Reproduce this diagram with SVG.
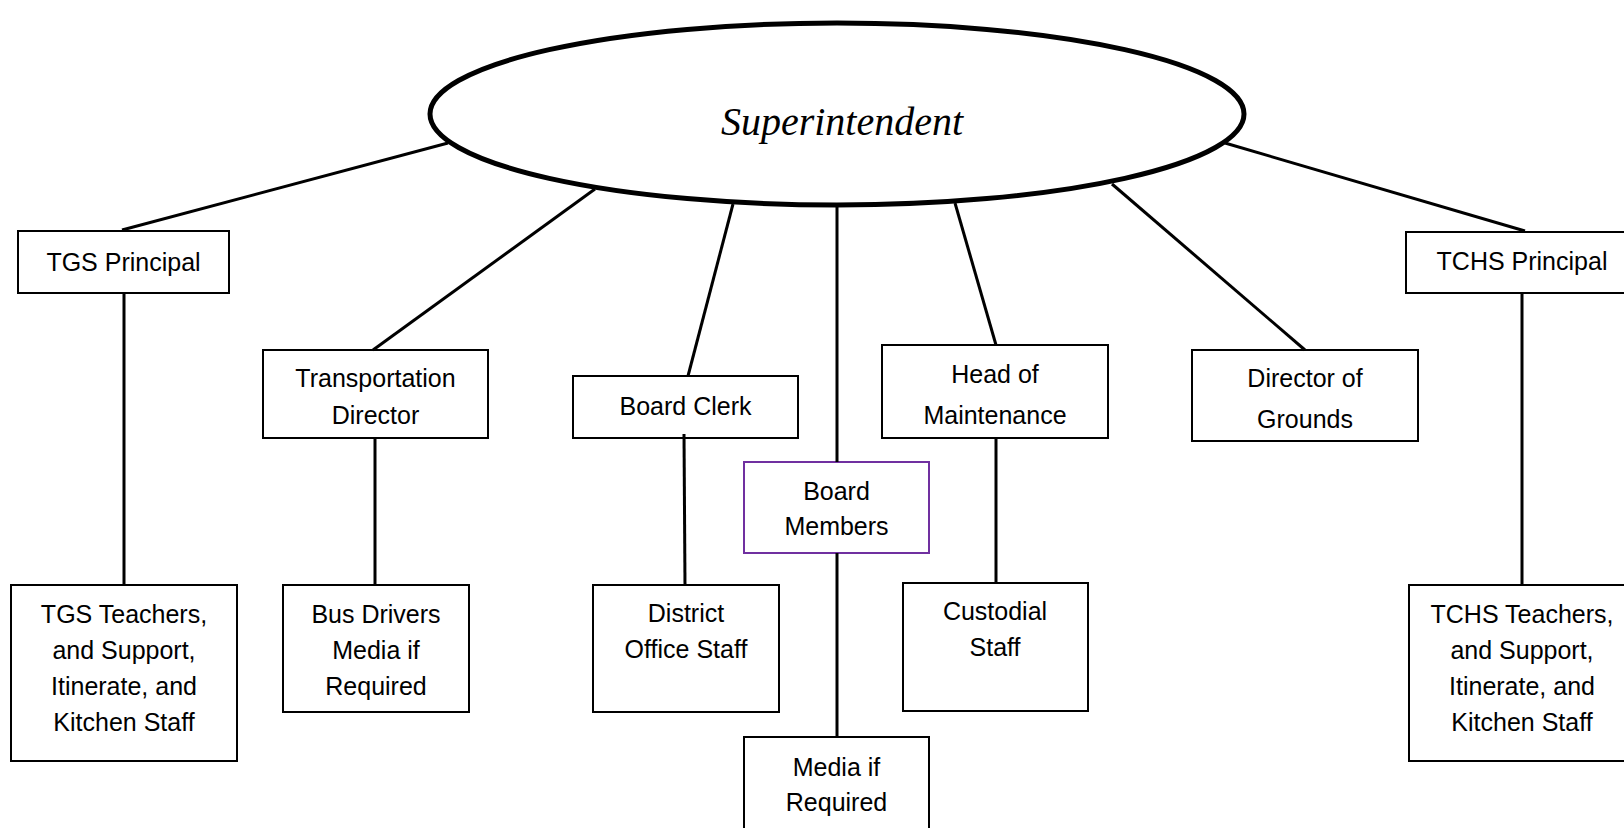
<svg xmlns="http://www.w3.org/2000/svg" width="1624" height="828" viewBox="0 0 1624 828">
<style>
.box{fill:#fff;stroke:#000;stroke-width:2}
.bm{fill:#fff;stroke:#7030A0;stroke-width:2}
.t{font-family:"Liberation Sans",Arial,sans-serif;font-size:25px;fill:#000;text-anchor:middle}
.sup{font-family:"Liberation Serif","Times New Roman",serif;font-style:italic;font-size:40px;fill:#000;text-anchor:middle}
.c{stroke:#000;stroke-width:3;fill:none}
</style>
<rect width="1624" height="828" fill="#fff"/>
<g id="superintendent">
<ellipse cx="837" cy="114" rx="407" ry="91" fill="#fff" stroke="#000" stroke-width="5"/>
<text class="sup" x="842" y="135">Superintendent</text>
</g>
<g id="tgs-principal">
<rect class="box" x="18" y="231" width="211" height="62"/>
<text class="t" x="123.5" y="271">TGS Principal</text>
</g>
<g id="transportation-director">
<rect class="box" x="263" y="350" width="225" height="88"/>
<text class="t" x="375.5" y="387">Transportation</text>
<text class="t" x="375.5" y="424">Director</text>
</g>
<g id="board-clerk">
<rect class="box" x="573" y="376" width="225" height="62"/>
<text class="t" x="685.5" y="415">Board Clerk</text>
</g>
<g id="board-members">
<rect class="bm" x="744" y="462" width="185" height="91"/>
<text class="t" x="836.5" y="500">Board</text>
<text class="t" x="836.5" y="535">Members</text>
</g>
<g id="head-of-maintenance">
<rect class="box" x="882" y="345" width="226" height="93"/>
<text class="t" x="995" y="383">Head of</text>
<text class="t" x="995" y="424">Maintenance</text>
</g>
<g id="director-of-grounds">
<rect class="box" x="1192" y="350" width="226" height="91"/>
<text class="t" x="1305" y="387">Director of</text>
<text class="t" x="1305" y="428">Grounds</text>
</g>
<g id="tchs-principal">
<rect class="box" x="1406" y="232" width="230" height="61"/>
<text class="t" x="1522" y="270">TCHS Principal</text>
</g>
<g id="tgs-teachers">
<rect class="box" x="11" y="585" width="226" height="176"/>
<text class="t" x="124" y="623">TGS Teachers,</text>
<text class="t" x="124" y="659">and Support,</text>
<text class="t" x="124" y="695">Itinerate, and</text>
<text class="t" x="124" y="731">Kitchen Staff</text>
</g>
<g id="bus-drivers">
<rect class="box" x="283" y="585" width="186" height="127"/>
<text class="t" x="376" y="623">Bus Drivers</text>
<text class="t" x="376" y="659">Media if</text>
<text class="t" x="376" y="695">Required</text>
</g>
<g id="district-office-staff">
<rect class="box" x="593" y="585" width="186" height="127"/>
<text class="t" x="686" y="622">District</text>
<text class="t" x="686" y="658">Office Staff</text>
</g>
<g id="custodial-staff">
<rect class="box" x="903" y="583" width="185" height="128"/>
<text class="t" x="995" y="620">Custodial</text>
<text class="t" x="995" y="656">Staff</text>
</g>
<g id="media-if-required">
<rect class="box" x="744" y="737" width="185" height="100"/>
<text class="t" x="836.5" y="776">Media if</text>
<text class="t" x="836.5" y="811">Required</text>
</g>
<g id="tchs-teachers">
<rect class="box" x="1409" y="585" width="227" height="176"/>
<text class="t" x="1522" y="623">TCHS Teachers,</text>
<text class="t" x="1522" y="659">and Support,</text>
<text class="t" x="1522" y="695">Itinerate, and</text>
<text class="t" x="1522" y="731">Kitchen Staff</text>
</g>
<g id="connectors">
<line class="c" x1="448" y1="143" x2="122" y2="230"/>
<line class="c" x1="595" y1="189" x2="373" y2="350"/>
<line class="c" x1="733" y1="204" x2="688" y2="376"/>
<line class="c" x1="837" y1="205" x2="837" y2="462"/>
<line class="c" x1="955" y1="203" x2="996" y2="345"/>
<line class="c" x1="1112" y1="184" x2="1305" y2="350"/>
<line class="c" x1="1225" y1="143" x2="1525" y2="231"/>
<line class="c" x1="124" y1="293" x2="124" y2="585"/>
<line class="c" x1="375" y1="438" x2="375" y2="585"/>
<line class="c" x1="684" y1="434" x2="685" y2="585"/>
<line class="c" x1="996" y1="438" x2="996" y2="583"/>
<line class="c" x1="837" y1="553" x2="837" y2="737"/>
<line class="c" x1="1522" y1="293" x2="1522" y2="585"/>
</g>
</svg>
